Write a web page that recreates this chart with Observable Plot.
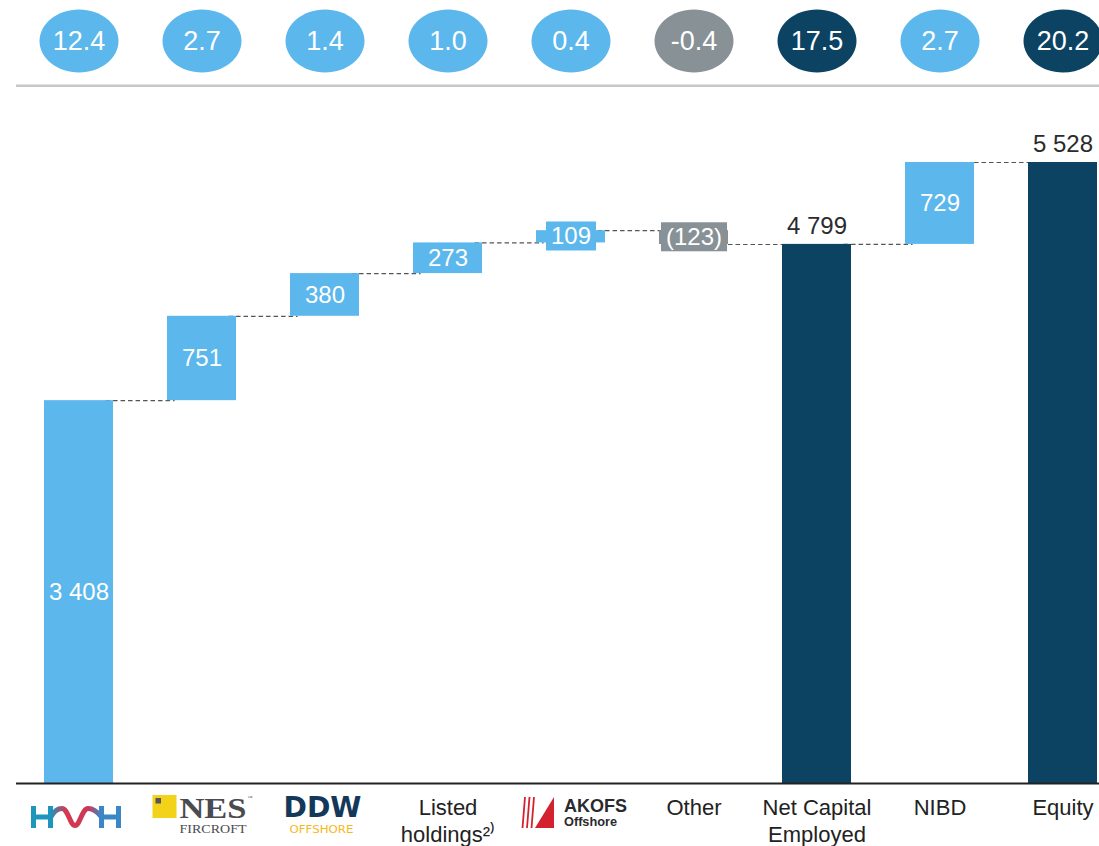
<!DOCTYPE html>
<html><head><meta charset="utf-8">
<script src="https://cdn.jsdelivr.net/npm/d3@7"></script>
<script src="https://cdn.jsdelivr.net/npm/@observablehq/plot@0.6"></script>
<style>
html,body{margin:0;padding:0;background:#fff;}
#chart{width:1099px;height:846px;overflow:hidden;}
</style></head>
<body><div id="chart"></div>
<script>
// ---- data ----
const categories = ["HMH", "NES Fircroft", "DDW Offshore", "Listed holdings", "AKOFS Offshore", "Other", "Net Capital Employed", "NIBD", "Equity"];
const values = [3408, 751, 380, 273, 109, -123, 4799, 729, 5528];
const kinds = ["step", "step", "step", "step", "step", "step", "total", "step", "total"];
const perShare = [12.4, 2.7, 1.4, 1.0, 0.4, -0.4, 17.5, 2.7, 20.2];
const tickLabels = [null, null, null, "Listed\nholdings²⁾", null, "Other", "Net Capital\nEmployed", "NIBD", "Equity"];

// ---- derived rows ----
let run = 0;
const rows = categories.map((cat, i) => {
  const v = values[i], k = kinds[i];
  let y1, y2;
  if (k === "total") { y1 = 0; y2 = v; run = v; }
  else { y1 = run; y2 = run + v; run = y2; }
  const type = k === "total" ? "total" : (v < 0 ? "neg" : "pos");
  return {cat, value: v, y1, y2, end: y2, type, share: perShare[i], tick: tickLabels[i]};
});
const connectors = rows.slice(0, -1).map(d => ({cat: d.cat, level: d.end}));
const insideRows = rows.filter(d => d.type !== "total");
const totalRows = rows.filter(d => d.type === "total");

const colorOf = {pos: "#5BB7EC", neg: "#879196", total: "#0C4262"};
const fmtNum = v => {
  const s = d3.format(",")(Math.abs(v)).replace(/,/g, " ");
  return v < 0 ? `(${s})` : s;
};

const W = 1099, H = 846;
const xRange = [16, 1124];
const step = (xRange[1] - xRange[0]) / categories.length;

const ellipse = {draw(ctx) {
  const rx = 39.5, ry = 31.5, k = 0.5523;
  ctx.moveTo(rx, 0);
  ctx.bezierCurveTo(rx, ry * k, rx * k, ry, 0, ry);
  ctx.bezierCurveTo(-rx * k, ry, -rx, ry * k, -rx, 0);
  ctx.bezierCurveTo(-rx, -ry * k, -rx * k, -ry, 0, -ry);
  ctx.bezierCurveTo(rx * k, -ry, rx, -ry * k, rx, 0);
  ctx.closePath();
}};

const separator = (index, scales, values, dims) =>
  d3.create("svg:line")
    .attr("x1", dims.marginLeft).attr("x2", dims.width)
    .attr("y1", 85.7).attr("y2", 85.7)
    .attr("stroke", "#C8C8C8").attr("stroke-width", 2.5).node();

const logos = (index, scales, values, dims) => {
  const sx = scales.x;
  const bw = typeof sx.bandwidth === "function" ? sx.bandwidth() : 0;
  const cx = c => sx(c) + bw / 2;
  const y0 = scales.y(0);
  const g = d3.create("svg:g").attr("text-anchor", "start");

  // HMH
  const h = g.append("g").attr("transform", `translate(${cx("HMH") - 47.5},${y0 + 23})`);
  const grad = h.append("defs").append("linearGradient").attr("id", "hmhgrad")
    .attr("gradientUnits", "userSpaceOnUse").attr("x1", 20).attr("x2", 70).attr("y1", 0).attr("y2", 0);
  grad.append("stop").attr("offset", 0).attr("stop-color", "#1F94BF");
  grad.append("stop").attr("offset", 0.3).attr("stop-color", "#D7384C");
  grad.append("stop").attr("offset", 0.75).attr("stop-color", "#C9395A");
  grad.append("stop").attr("offset", 1).attr("stop-color", "#3A86C6");
  h.append("path").attr("d", "M2.5,0V22M19.5,0V22M2.5,11H20").attr("fill", "none").attr("stroke", "#1F94BF").attr("stroke-width", 5);
  h.append("path").attr("d", "M20,11 C23,5 27,2.5 31,2.5 C37,2.5 39,19.5 44,19.5 C49,19.5 51,2.5 57,2.5 C61,2.5 66,5 70.5,11")
    .attr("fill", "none").attr("stroke", "url(#hmhgrad)").attr("stroke-width", 5);
  h.append("path").attr("d", "M70.5,0V22M87.5,0V22M70,11H87.5").attr("fill", "none").attr("stroke", "#3A86C6").attr("stroke-width", 5);

  // NES Fircroft
  const n = g.append("g").attr("transform", `translate(${cx("NES Fircroft")},${y0})`);
  n.append("rect").attr("x", -49).attr("y", 12).attr("width", 24).attr("height", 23).attr("fill", "#F2D31A");
  n.append("rect").attr("x", -46).attr("y", 15).attr("width", 5.5).attr("height", 5.5).attr("fill", "#55565A");
  n.append("text").attr("x", -22).attr("y", 35).attr("font-family", "'Liberation Serif', 'DejaVu Serif', serif")
    .attr("font-weight", "bold").attr("font-size", 30).attr("fill", "#4A4B50")
    .attr("textLength", 67).attr("lengthAdjust", "spacingAndGlyphs").text("NES");
  n.append("text").attr("x", 46).attr("y", 16).attr("font-family", "'Liberation Serif', serif")
    .attr("font-size", 5).attr("fill", "#4A4B50").text("™");
  n.append("text").attr("x", -22).attr("y", 50).attr("font-family", "'Liberation Serif', 'DejaVu Serif', serif")
    .attr("font-size", 11.5).attr("fill", "#4A4B50")
    .attr("textLength", 67).attr("lengthAdjust", "spacingAndGlyphs").text("FIRCROFT");

  // DDW Offshore
  const dd = g.append("g").attr("transform", `translate(${cx("DDW Offshore")},${y0})`);
  dd.append("text").attr("x", -41).attr("y", 34).attr("font-family", "'DejaVu Sans', sans-serif")
    .attr("font-weight", "bold").attr("font-size", 28).attr("fill", "#14385A")
    .attr("textLength", 78).attr("lengthAdjust", "spacingAndGlyphs").text("DDW");
  dd.append("text").attr("x", -35).attr("y", 50).attr("font-family", "'DejaVu Sans', sans-serif")
    .attr("font-size", 10.5).attr("fill", "#F4B91C")
    .attr("textLength", 64).attr("lengthAdjust", "spacingAndGlyphs").text("OFFSHORE");

  // AKOFS Offshore
  const a = g.append("g").attr("transform", `translate(${cx("AKOFS Offshore")},${y0})`);
  [-48, -43.5, -39].forEach(b => {
    a.append("line").attr("x1", b).attr("y1", 45).attr("x2", b + 2.5).attr("y2", 14)
      .attr("stroke", "#D42130").attr("stroke-width", 1.8);
  });
  a.append("path").attr("d", "M-35.5,45 L-16.5,14 L-16.5,45 Z").attr("fill", "#D42130");
  a.append("text").attr("x", -6.5).attr("y", 29).attr("font-family", "'Liberation Sans', Arial, sans-serif")
    .attr("font-weight", "bold").attr("font-size", 17.5).attr("fill", "#2A2A2E")
    .attr("textLength", 63).attr("lengthAdjust", "spacingAndGlyphs").text("AKOFS");
  a.append("text").attr("x", -6.5).attr("y", 43).attr("font-family", "'Liberation Sans', Arial, sans-serif")
    .attr("font-weight", "bold").attr("font-size", 13).attr("fill", "#2A2A2E")
    .attr("textLength", 53).attr("lengthAdjust", "spacingAndGlyphs").text("Offshore");
  return g.node();
};

const chart = Plot.plot({
  width: W,
  height: H,
  marginTop: 162,
  marginBottom: 63,
  marginLeft: 16,
  marginRight: 0,
  style: {fontFamily: "'Liberation Sans', Arial, sans-serif", background: "#fff"},
  x: {domain: categories, range: xRange, paddingInner: 0.44, paddingOuter: 0.22, axis: null},
  y: {domain: [0, d3.max(rows, d => Math.max(d.y1, d.y2))], axis: null},
  color: {domain: ["pos", "neg", "total"], range: [colorOf.pos, colorOf.neg, colorOf.total]},
  marks: [
    separator,
    Plot.tickY(connectors, {x: "cat", y: "level", dx: step / 2, stroke: "#555", strokeWidth: 1.2, strokeDasharray: "4.5,3"}),
    Plot.barY(rows, {x: "cat", y1: "y1", y2: "y2", fill: "type"}),
    Plot.ruleY([0], {stroke: "#222", strokeWidth: 2}),
    Plot.text(insideRows, {x: "cat", y: d => (d.y1 + d.y2) / 2, text: d => fmtNum(d.value), fill: "white", fontSize: 24}),
    Plot.text(totalRows, {x: "cat", y: "y2", dy: -18, text: d => fmtNum(d.value), fill: "#2B2B2B", fontSize: 24}),
    Plot.dot(rows, {x: "cat", frameAnchor: "top", dy: -121.5, symbol: ellipse, fill: "type"}),
    Plot.text(rows, {x: "cat", frameAnchor: "top", lineAnchor: "middle", dy: -121, text: d => d.share.toFixed(1), fill: "white", fontSize: 27}),
    Plot.text(rows.filter(d => d.tick), {x: "cat", frameAnchor: "bottom", dy: 12, lineAnchor: "top", text: "tick", fill: "#222", fontSize: 22, lineHeight: 1.23}),
    logos
  ]
});
document.getElementById("chart").appendChild(chart);

// label background boxes (same colour as the bar) behind inside labels of bars too short for the text
const yScale = chart.scale("y");
const insideGroup = d3.select(chart).selectAll('g[aria-label="text"]').nodes()[0];
d3.select(insideGroup).selectAll("text").each(function(_, i) {
  const d = insideRows[i];
  const barPx = Math.abs(yScale.apply(d.y1) - yScale.apply(d.y2));
  if (barPx >= 29) return;
  const b = this.getBBox();
  const cy = b.y + b.height / 2;
  const r = d3.create("svg:rect")
    .attr("x", b.x - 5).attr("y", cy - 14.5)
    .attr("width", b.width + 10).attr("height", 29)
    .attr("fill", colorOf[d.type]);
  const t = this.getAttribute("transform");
  if (t) r.attr("transform", t);
  this.parentNode.insertBefore(r.node(), this);
});
</script>
</body></html>
